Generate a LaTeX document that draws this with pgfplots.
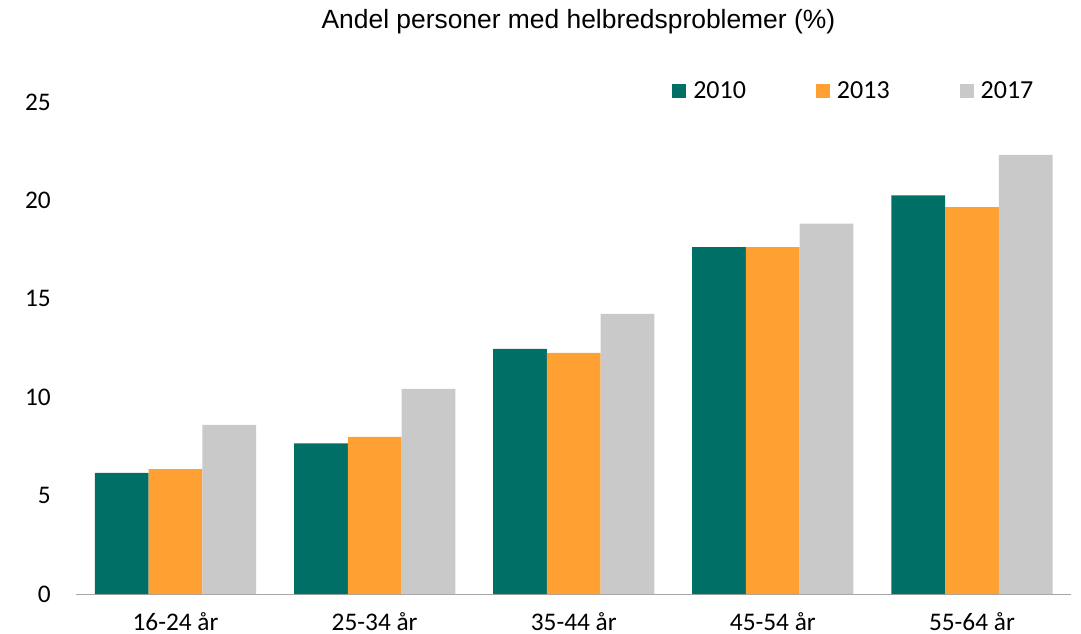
\documentclass[border=0pt]{standalone}
\usepackage{fontspec}
\setmainfont{Carlito}
\newfontfamily\arialfont{Liberation Sans}
\usepackage{pgfplots}
\pgfplotsset{compat=1.18}
\definecolor{c2010}{HTML}{007066}
\definecolor{c2013}{HTML}{FFA033}
\definecolor{c2017}{HTML}{C9C9C9}
\definecolor{axisgray}{HTML}{A6A6A6}

\begin{document}
\begin{tikzpicture}
\useasboundingbox (0pt,0pt) rectangle (810.75pt,474.75pt);
\begin{axis}[
    at={(57pt,29.25pt)}, anchor=south west,
    scale only axis,
    width=746.6pt, height=369pt,
    xmin=-0.5, xmax=4.5,
    ymin=0, ymax=25,
    ybar=0pt, bar width=0.27,
    xtick={0,1,2,3,4},
    xticklabels={16-24 år,25-34 år,35-44 år,45-54 år,55-64 år},
    ytick={0,5,10,15,20,25},
    major tick length=0pt,
    axis x line*=bottom, axis y line*=left,
    x axis line style={axisgray, line width=0.75pt, -},
    y axis line style={draw=none},
    tick label style={font=\fontsize{19}{22}\selectfont},
    /pgf/number format/assume math mode=true,
    yticklabel style={anchor=east, inner sep=0pt, xshift=-18.75pt},
    xticklabel style={anchor=north, inner sep=0pt, yshift=-13.5pt},
    title={Andel personer med helbredsproblemer (\%)},
    title style={at={(0.5,1)}, anchor=center, yshift=54.5pt, xshift=3.5pt,
        inner sep=0pt, font=\arialfont\fontsize{19.8}{24}\selectfont},
    legend columns=3,
    legend style={draw=none, fill=none, at={(0.5987,1.0224)}, anchor=west,
        inner sep=0pt, column sep=5.25pt,
        nodes={inner sep=0pt, font=\fontsize{19.5}{22}\selectfont},
        /tikz/every even column/.append style={column sep=52.5pt}},
    legend image code/.code={\fill[#1] (0pt,-5.25pt) rectangle (10.5pt,5.25pt);},
]
\addplot[fill=c2010, draw=none, bar shift=-0.27] coordinates {(0,6.16) (1,7.66) (2,12.45) (3,17.62) (4,20.26)};
\addplot[fill=c2013, draw=none, bar shift=0] coordinates {(0,6.34) (1,7.98) (2,12.25) (3,17.62) (4,19.66)};
\addplot[fill=c2017, draw=none, bar shift=0.27] coordinates {(0,8.60) (1,10.42) (2,14.23) (3,18.82) (4,22.31)};
\legend{2010,2013,2017}
\end{axis}
\end{tikzpicture}
\end{document}
